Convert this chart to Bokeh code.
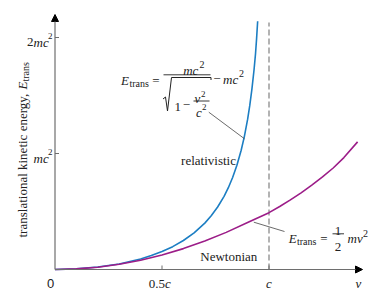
import math
from bokeh.plotting import figure
from bokeh.models import Range1d, Label, Arrow, NormalHead
from bokeh.embed import file_html
from bokeh.resources import INLINE

# ---- data (v in units of c, E in units of mc^2) ----
v_rel = [0.0, 0.1, 0.2, 0.3, 0.4, 0.45, 0.5, 0.55, 0.6, 0.65, 0.7, 0.73, 0.76, 0.79, 0.81,
         0.83, 0.85, 0.87, 0.885, 0.9, 0.91, 0.92, 0.93, 0.937, 0.942, 0.947]
E_rel = [0.0, 0.005, 0.021, 0.048, 0.091, 0.120, 0.155, 0.197, 0.25, 0.316, 0.40, 0.463, 0.539,
         0.631, 0.705, 0.793, 0.898, 1.028, 1.148, 1.294, 1.412, 1.552, 1.72, 1.86, 1.99, 2.14]
v_newt = [0.0, 0.1, 0.2, 0.3, 0.4, 0.5, 0.6, 0.7, 0.8, 0.9, 1.0, 1.05, 1.1, 1.15, 1.2, 1.25,
          1.3, 1.35, 1.414]
E_newt = [0.0, 0.005, 0.02, 0.045, 0.08, 0.125, 0.18, 0.245, 0.32, 0.405, 0.49, 0.543, 0.60,
          0.661, 0.727, 0.798, 0.875, 0.965, 1.10]
x_tick_values = [0.5, 1.0]
y_tick_values = [1.0, 2.0]
c_value = 1.0

BLUE = "#1c7ec3"
PURPLE = "#9c1d88"
AXIS = "#6e6e6e"
INK = "#222222"
SERIF = "Liberation Serif"

W, H = 385, 300
X0, Y0 = 54.5, 269.0      # pixel position of origin
SX, SY = 214.0, 116.0     # pixels per c, pixels per mc^2


def dx(px):
    return (px - X0) / SX


def dy(py):
    return (Y0 - py) / SY


p = figure(width=W, height=H, x_range=Range1d(dx(0), dx(W)), y_range=Range1d(dy(H), dy(0)),
           output_backend="svg", toolbar_location=None, min_border=0,
           x_axis_type=None, y_axis_type=None)
p.outline_line_color = None
p.background_fill_color = "white"
p.border_fill_color = "white"


def txt(px, py, s, size=13, style="normal", align="left", font=SERIF, angle=0.0, baseline="alphabetic"):
    p.add_layout(Label(x=dx(px), y=dy(py), text=s, text_font=font, text_font_size=f"{size}px",
                       text_font_style=style, text_align=align, text_baseline=baseline,
                       angle=angle, text_color=INK))


def poly(pxs, pys, w=1.0, color=INK):
    p.line([dx(a) for a in pxs], [dy(b) for b in pys], line_color=color, line_width=w)


# dashed line at v = c
p.segment(x0=[c_value], y0=[0], x1=[c_value], y1=[dy(22)], line_color="#808080",
          line_width=1.2, line_dash="6 3")

# curves
p.line(v_rel, E_rel, line_color=BLUE, line_width=1.6, line_join="round")
p.line(v_newt, E_newt, line_color=PURPLE, line_width=1.6, line_join="round")

# axes with arrows
p.add_layout(Arrow(end=NormalHead(size=7, fill_color="black", line_color="black"),
                   x_start=0, y_start=0, x_end=0, y_end=dy(14), line_color=AXIS, line_width=1.2))
p.add_layout(Arrow(end=NormalHead(size=7, fill_color="black", line_color="black"),
                   x_start=0, y_start=0, x_end=dx(362), y_end=0, line_color=AXIS, line_width=1.2))

# ticks
p.segment(x0=x_tick_values, y0=[0] * len(x_tick_values), x1=x_tick_values,
          y1=[4 / SY] * len(x_tick_values), line_color=AXIS, line_width=1)
p.segment(x0=[0] * len(y_tick_values), y0=y_tick_values, x1=[4 / SX] * len(y_tick_values),
          y1=y_tick_values, line_color=AXIS, line_width=1)

# y tick labels
txt(26.5, 41.5, "2")
txt(33, 41.5, "mc", style="italic")
txt(47.5, 35.5, "2", size=9)
txt(33, 157.5, "mc", style="italic")
txt(47.5, 151.5, "2", size=9)

# x tick labels
txt(50, 283, "0", font="Liberation Sans", align="center")
txt(148.3, 283, "0.5")
txt(164.6, 283, "c", style="italic")
txt(268.3, 283, "c", style="italic", align="center")
txt(358, 283, "v", style="italic", align="center")

# y axis title (rotated)
A = math.pi / 2
txt(22, 237, "translational kinetic energy,", angle=A)
txt(22, 89, "E", style="italic", angle=A)
txt(24.5, 81, "trans", size=10, angle=A)

# relativistic formula
txt(120.5, 80, "E", style="italic")
txt(129, 82.5, "trans", size=10)
txt(155.5, 80, "=", align="center")
txt(182.7, 69.5, "mc", style="italic")
txt(199, 64, "2", size=10)
poly([163, 210], [74.3, 74.3], w=0.9)
poly([162.5, 165, 167, 171, 210.5, 210.5], [98.5, 96.5, 110.5, 77, 77, 79.5], w=1.0)
txt(174, 106.5, "1")
txt(186, 104.5, "\u2212", align="center")
txt(194, 97.5, "v", style="italic")
txt(200.5, 93, "2", size=9)
poly([193, 209], [100.5, 100.5], w=0.9)
txt(195.5, 111.5, "c", style="italic")
txt(201.5, 106, "2", size=9)
txt(216.5, 78.5, "\u2212", align="center")
txt(222.5, 78.5, "mc", style="italic")
txt(238.5, 73, "2", size=10)
poly([208.3, 244], [111.7, 138.3], w=0.8, color="#444444")
txt(208, 160, "relativistic", align="center")

# Newtonian formula
txt(228.3, 255.5, "Newtonian", align="center")
poly([253.3, 284], [221.7, 231], w=0.8, color="#444444")
txt(288.3, 238, "E", style="italic")
txt(296.5, 240.5, "trans", size=10)
txt(323.3, 238, "=", align="center")
txt(337.5, 230, "1", align="center")
poly([332, 343.5], [233.3, 233.3], w=0.9)
txt(337.5, 246, "2", align="center")
txt(347, 238, "mv", style="italic")
txt(362.5, 232.5, "2", size=10)

open("out.html", "w").write(file_html(p, INLINE))
